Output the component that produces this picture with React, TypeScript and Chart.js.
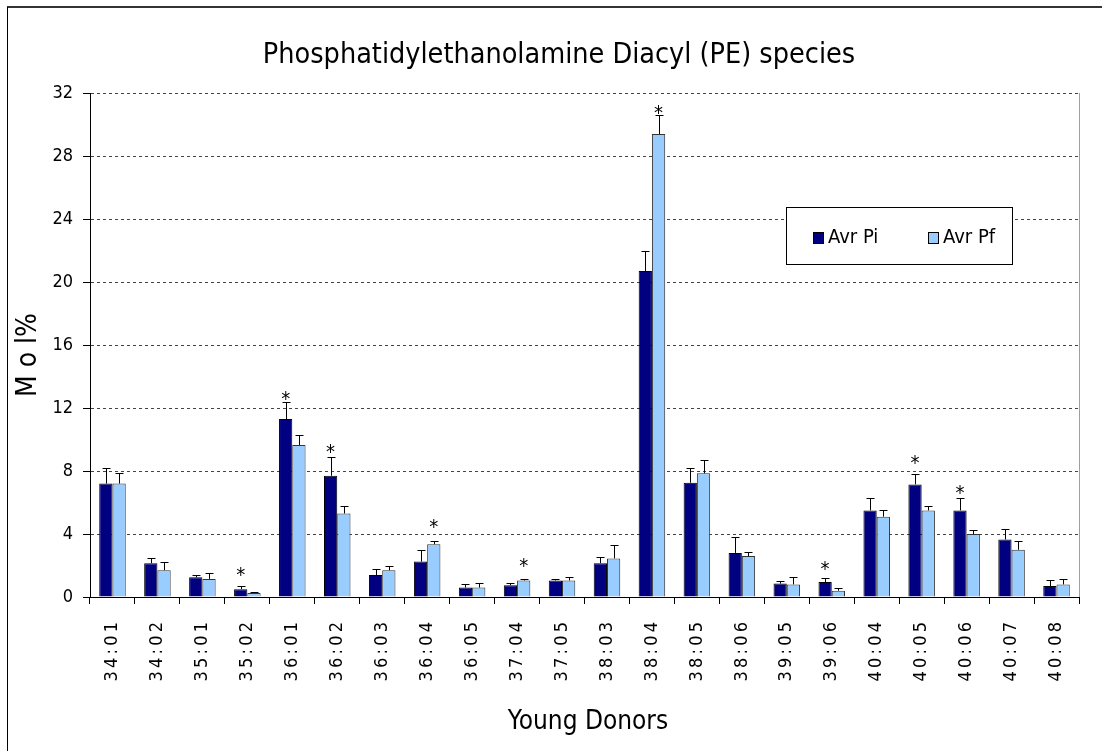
import React, { useEffect, useRef } from 'react';
import { Chart, registerables } from 'chart.js';

Chart.register(...registerables);

const FONT = "'Liberation Sans Narrow', 'DejaVu Sans Condensed', 'Liberation Sans', sans-serif";

const categories = ['34:01', '34:02', '35:01', '35:02', '36:01', '36:02', '36:03', '36:04', '36:05', '37:04', '37:05', '38:03', '38:04', '38:05', '38:06', '39:05', '39:06', '40:04', '40:05', '40:06', '40:07', '40:08'];

const avrPi = [7.2, 2.15, 1.25, 0.5, 11.3, 7.7, 1.4, 2.25, 0.6, 0.75, 1.05, 2.15, 20.7, 7.25, 2.8, 0.85, 0.95, 5.5, 7.15, 5.5, 3.65, 0.7];
const avrPf = [7.2, 1.7, 1.15, 0.25, 9.65, 5.3, 1.7, 3.35, 0.6, 1.05, 1.05, 2.45, 29.4, 7.85, 2.6, 0.8, 0.4, 5.1, 5.5, 4.0, 3.0, 0.8];
const errPi = [1.0, 0.3, 0.17, 0.17, 1.1, 1.2, 0.38, 0.75, 0.2, 0.11, 0.1, 0.38, 1.27, 0.93, 1.04, 0.19, 0.26, 0.76, 0.64, 0.76, 0.66, 0.38];
const errPf = [0.7, 0.55, 0.38, 0.09, 0.66, 0.47, 0.3, 0.19, 0.27, 0.1, 0.19, 0.85, 1.2, 0.85, 0.26, 0.45, 0.17, 0.45, 0.28, 0.28, 0.56, 0.36];
// significance markers (*) – value level at which the star sits, null = none
const starPi = [null, null, null, 1.76, 12.97, 9.59, null, null, null, null, null, null, null, null, null, null, 2.18, null, 8.89, 6.98, null, null];
const starPf = [null, null, null, null, null, null, null, 4.83, null, 2.35, null, null, 31.13, null, null, null, null, null, null, null, null, null];

const yTicks = [0, 4, 8, 12, 16, 20, 24, 28, 32];

const seriesNames = ['Avr Pi', 'Avr Pf'];
const seriesColors = ['#000080', '#99CCFF'];
const titleText = 'Phosphatidylethanolamine Diacyl (PE) species';
const xTitle = 'Young Donors';
const yTitle = 'M o l%';

export default function App() {
  const ref = useRef<HTMLCanvasElement>(null);

  useEffect(() => {
    const canvas = ref.current;
    if (!canvas) return;

    const decor = {
      id: 'decor',
      beforeDraw(chart: any) {
        const ctx = chart.ctx;
        ctx.save();
        ctx.fillStyle = '#fff';
        ctx.fillRect(0, 0, chart.width, chart.height);
        ctx.strokeStyle = '#333';
        ctx.lineWidth = 2;
        ctx.beginPath();
        ctx.moveTo(7, 7);
        ctx.lineTo(chart.width, 7);
        ctx.stroke();
        ctx.strokeStyle = '#000';
        ctx.lineWidth = 1;
        ctx.beginPath();
        ctx.moveTo(7.5, 7);
        ctx.lineTo(7.5, chart.height);
        ctx.stroke();
        ctx.restore();
      },
      afterDatasetsDraw(chart: any) {
        const ctx = chart.ctx;
        const ys = chart.scales.y;
        const area = chart.chartArea;
        ctx.save();
        // right plot border
        ctx.strokeStyle = '#a0a0a0';
        ctx.lineWidth = 1;
        ctx.beginPath();
        ctx.moveTo(Math.round(area.right) + 0.5, area.top);
        ctx.lineTo(Math.round(area.right) + 0.5, area.bottom);
        ctx.stroke();

        const vals = [avrPi, avrPf];
        const errs = [errPi, errPf];
        const stars = [starPi, starPf];
        ctx.strokeStyle = '#000';
        ctx.lineWidth = 1;
        for (let d = 0; d < 2; d++) {
          const meta = chart.getDatasetMeta(d);
          meta.data.forEach((el: any, i: number) => {
            const x = Math.round(el.x) + 0.5;
            const yb = ys.getPixelForValue(vals[d][i]);
            const yt = Math.round(ys.getPixelForValue(vals[d][i] + errs[d][i])) + 0.5;
            ctx.beginPath();
            ctx.moveTo(x, yb);
            ctx.lineTo(x, yt);
            ctx.moveTo(x - 4, yt);
            ctx.lineTo(x + 4, yt);
            ctx.stroke();
            const s = stars[d][i];
            if (s !== null && s !== undefined) {
              ctx.fillStyle = '#000';
              ctx.font = `20px ${FONT}`;
              ctx.textAlign = 'center';
              ctx.textBaseline = 'alphabetic';
              ctx.fillText('*', el.x, ys.getPixelForValue(s) + 12);
            }
          });
        }

        // legend
        ctx.fillStyle = '#fff';
        ctx.fillRect(786, 207, 226, 57);
        ctx.strokeStyle = '#000';
        ctx.strokeRect(786.5, 207.5, 226, 57);
        const lx = [813, 928];
        ctx.font = `20px ${FONT}`;
        ctx.textAlign = 'left';
        ctx.textBaseline = 'middle';
        for (let d = 0; d < 2; d++) {
          ctx.fillStyle = seriesColors[d];
          ctx.fillRect(lx[d], 232, 10, 11);
          ctx.strokeStyle = '#000';
          ctx.strokeRect(lx[d] + 0.5, 232.5, 10, 11);
          ctx.fillStyle = '#000';
          ctx.fillText(seriesNames[d], lx[d] + 15, 238);
        }
        ctx.restore();
      },
      afterDraw(chart: any) {
        const ctx = chart.ctx;
        ctx.save();
        ctx.fillStyle = '#000';
        ctx.textAlign = 'center';
        ctx.textBaseline = 'middle';
        ctx.font = `28.5px ${FONT}`;
        ctx.fillText(titleText, 559, 56);
        ctx.font = `26px ${FONT}`;
        ctx.fillText(xTitle, 588, 722);
        ctx.translate(29, 355);
        ctx.rotate(-Math.PI / 2);
        ctx.font = `28px ${FONT}`;
        ctx.fillText(yTitle, 0, 0);
        ctx.restore();
      },
    };

    const chart = new Chart(canvas, {
      type: 'bar',
      data: {
        labels: categories,
        datasets: [
          { label: seriesNames[0], data: avrPi, backgroundColor: seriesColors[0], borderColor: '#000', borderWidth: 1, categoryPercentage: 0.59, barPercentage: 1.0 },
          { label: seriesNames[1], data: avrPf, backgroundColor: seriesColors[1], borderColor: '#333', borderWidth: 1, categoryPercentage: 0.59, barPercentage: 1.0 },
        ],
      },
      options: {
        responsive: false,
        animation: false,
        devicePixelRatio: 1,
        layout: { padding: { top: 93, right: 23, left: 0, bottom: 0 } },
        plugins: {
          legend: { display: false },
          title: { display: false },
          tooltip: { enabled: false },
        },
        scales: {
          x: {
            afterFit: (s: any) => { s.height = 154; },
            grid: { display: true, drawOnChartArea: false, drawTicks: true, tickLength: 7, color: '#000', offset: true },
            border: { display: true, color: '#000', width: 1 },
            ticks: {
              autoSkip: false,
              maxRotation: 90,
              minRotation: 90,
              padding: 18,
              color: '#000',
              font: { family: FONT, size: 18 },
              callback: (_v: any, i: number) => categories[i].split('').join('\u2009'),
            },
          },
          y: {
            min: 0,
            max: 32,
            afterFit: (s: any) => { s.width = 90; },
            afterBuildTicks: (s: any) => { s.ticks = yTicks.map((v) => ({ value: v })); },
            grid: { display: true, drawOnChartArea: true, drawTicks: true, tickLength: 7, color: '#444', tickColor: '#000', tickBorderDash: [] },
            border: { display: true, color: '#000', width: 1, dash: [3, 3] },
            ticks: {
              padding: 10,
              color: '#000',
              font: { family: FONT, size: 18 },
            },
          },
        },
      },
      plugins: [decor],
    });

    return () => chart.destroy();
  }, []);

  return (
    <div style={{ position: 'absolute', left: 0, top: 0, width: 1102, height: 751 }}>
      <canvas ref={ref} width={1102} height={751} />
    </div>
  );
}
